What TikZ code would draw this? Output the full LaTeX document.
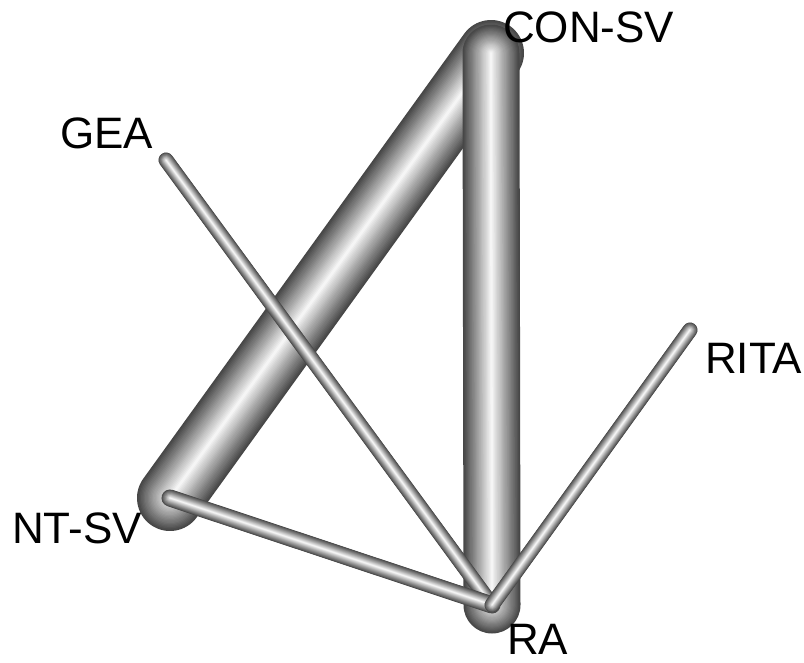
\documentclass[tikz,border=0pt]{standalone}
\usepackage{fontspec}
\setmainfont{Liberation Sans}
\usetikzlibrary{positioning}

\tikzset{
  lab/.style={anchor=base west,inner sep=0pt,font=\fontsize{44}{52}\selectfont},
}

% shaded tube between two named points
\newcommand{\tube}[3]{%
  \foreach \k in {0,...,24} {
    \pgfmathsetmacro{\wd}{#3*(1-\k/25)}
    \pgfmathsetmacro{\lv}{int(28+68*\k/24)}
    \draw[line width=\wd pt,line cap=round,draw=white!\lv!black] (#1) -- (#2);
  }
}

\begin{document}
\begin{tikzpicture}[x=1pt,y=-1pt]
\useasboundingbox (0,0) rectangle (804,662);

% treatments
\coordinate (conSV) at (491,53);
\coordinate (gea) at (166,160);
\coordinate (rita) at (690,330);
\coordinate (ntSV) at (170,498);
\coordinate (ra) at (492,605);

% thick comparisons
\tube{ntSV}{conSV}{66}
\tube{conSV}{ra}{57}
% thin comparisons
\tube{gea}{ra}{15}
\tube{ntSV}{ra}{17}
\tube{rita}{ra}{15}

% labels
\node[lab] (conSVlab) at (503,42) {CON-SV};
\node[lab] (gealab) at (60,148) {GEA};
\node[lab] (ritalab) at (705,373) {RITA};
\node[lab] (ntSVlab) at (12,543) {NT-SV};
\node[lab] (ralab) at (507,654) {RA};

\end{tikzpicture}
\end{document}
